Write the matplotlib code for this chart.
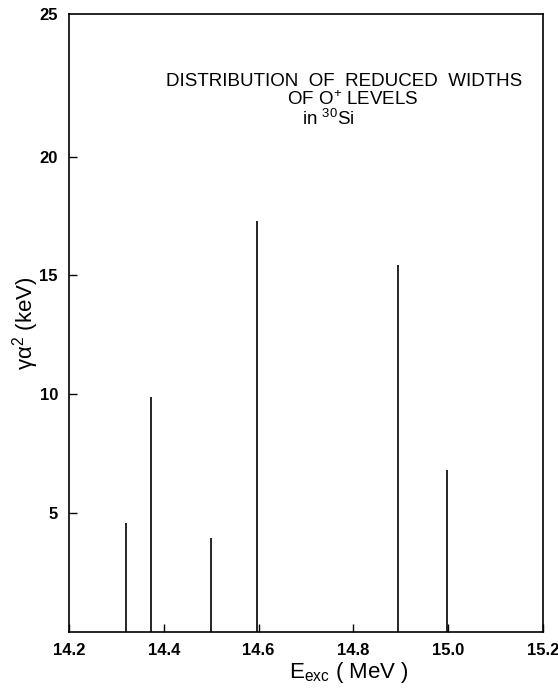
"""Distribution of reduced alpha widths of 0+ levels in 30Si."""

import matplotlib

matplotlib.use("Agg")
import matplotlib.pyplot as plt

# level energies (MeV) and reduced widths (keV)
energies = [14.32, 14.372, 14.50, 14.597, 14.894, 14.998]
widths = [4.6, 9.9, 3.95, 17.3, 15.45, 6.8]

x_ticks = [14.2, 14.4, 14.6, 14.8, 15.0, 15.2]
x_tick_labels = ["14.2", "14.4", "14.6", "14.8", "15.0", "15.2"]
y_ticks = [5, 10, 15, 20, 26]
y_tick_labels = ["5", "10", "15", "20", "25"]

plt.rcParams.update({"font.family": "Liberation Sans", "mathtext.fontset": "custom",
                     "mathtext.rm": "Liberation Sans", "mathtext.it": "Liberation Sans"})

fig = plt.figure(figsize=(5.58, 6.92), dpi=100)
ax = fig.add_axes([0.1237, 0.0867, 0.8495, 0.8931])

ax.vlines(energies, 0, widths, color="black", linewidth=1.2)

ax.set_xlim(14.2, 15.2)
ax.set_ylim(0, 26)
ax.set_xticks(x_ticks)
ax.set_xticklabels(x_tick_labels, fontsize=12, fontweight="bold")
ax.set_yticks(y_ticks)
ax.set_yticklabels(y_tick_labels, fontsize=12, fontweight="bold")
ax.tick_params(direction="in", length=6, width=1.0, pad=8)
ax.yaxis.get_major_ticks()[-1].tick1line.set_visible(False)
for spine in ax.spines.values():
    spine.set_linewidth(1.2)

ax.set_ylabel("γα$^{2}$ (keV)", fontsize=16, labelpad=-1)
fig.text(0.625, 0.02, r"E$_{\rm exc}$ ( MeV )", fontsize=16, ha="center")

ax.text(0.580, 0.890, "DISTRIBUTION  OF  REDUCED  WIDTHS", transform=ax.transAxes,
        ha="center", va="center", fontsize=13.5)
ax.text(0.599, 0.861, "OF O$^{+}$ LEVELS", transform=ax.transAxes,
        ha="center", va="center", fontsize=13.5)
ax.text(0.547, 0.830, "in $^{30}$Si", transform=ax.transAxes,
        ha="center", va="center", fontsize=13.5)

fig.savefig("out.png", dpi=100)
